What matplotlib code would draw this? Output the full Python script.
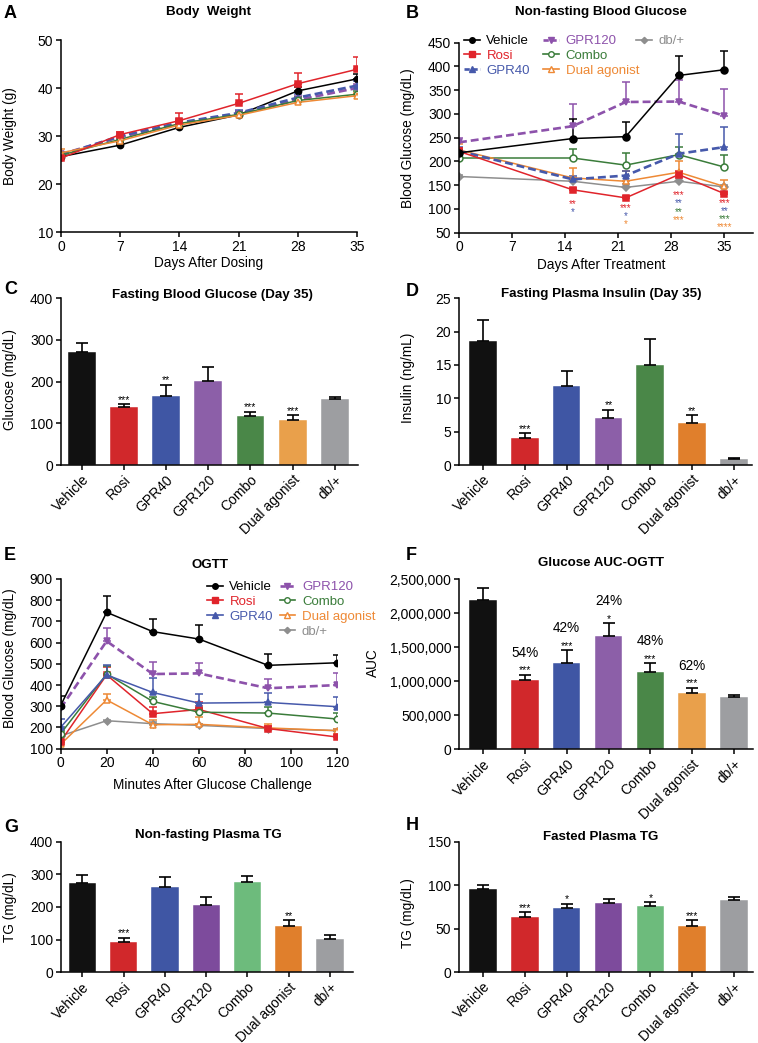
import numpy as np
import matplotlib
matplotlib.use("Agg")
import matplotlib.pyplot as plt
from matplotlib.lines import Line2D
from matplotlib.ticker import FuncFormatter

plt.rcParams['font.family'] = ['Liberation Sans', 'DejaVu Sans']

# ---------------- data ----------------
groups = ['Vehicle', 'Rosi', 'GPR40', 'GPR120', 'Combo', 'Dual agonist', 'db/+']

# A: body weight
days_A = [0, 7, 14, 21, 28, 35]
bw = {
    'Vehicle': [25.7, 28.1, 31.8, 34.4, 39.4, 41.9],
    'Rosi': [25.4, 30.3, 33.2, 36.8, 40.9, 43.9],
    'GPR40': [26.0, 30.0, 32.8, 34.8, 38.0, 40.5],
    'GPR120': [26.2, 29.8, 32.5, 34.6, 37.5, 40.0],
    'Combo': [26.0, 29.3, 32.6, 34.5, 37.4, 38.7],
    'Dual agonist': [26.5, 29.0, 32.3, 34.3, 37.0, 38.4],
}
bw_err = {
    'Vehicle': [0.5, 0.4, 0.5, 0.5, 0.8, 1.0],
    'Rosi': [0.6, 0.6, 1.5, 1.9, 2.2, 2.6],
    'GPR40': [0.5, 0.5, 0.7, 0.7, 0.8, 1.0],
    'GPR120': [0.5, 0.5, 0.6, 0.6, 0.8, 0.9],
    'Combo': [0.5, 0.5, 0.6, 0.5, 0.7, 0.7],
    'Dual agonist': [0.8, 0.5, 0.5, 0.5, 0.6, 0.6],
}

# B: non-fasting blood glucose
days_B = [0, 15, 22, 29, 35]
nfbg = {
    'Vehicle': [218, 248, 252, 381, 393],
    'Rosi': [221, 140, 123, 172, 132],
    'GPR40': [222, 162, 170, 216, 230],
    'GPR120': [240, 274, 325, 326, 296],
    'Combo': [207, 207, 192, 214, 188],
    'Dual agonist': [224, 165, 158, 177, 147],
    'db/+': [168, 158, 145, 158, 146],
}
nfbg_err = {
    'Vehicle': [5, 42, 31, 42, 39],
    'Rosi': [8, 4, 4, 8, 4],
    'GPR40': [8, 8, 10, 42, 42],
    'GPR120': [10, 46, 43, 45, 56],
    'Combo': [5, 18, 26, 16, 26],
    'Dual agonist': [12, 20, 22, 24, 14],
    'db/+': [3, 6, 7, 7, 5],
}
# significance labels for B: (day, level, text, group)
sig_B = [
    (15, 110, '**', 'Rosi'), (15, 93, '*', 'GPR40'),
    (22, 101, '***', 'Rosi'), (22, 84, '*', 'GPR40'), (22, 67, '*', 'Dual agonist'),
    (29, 128, '***', 'Rosi'), (29, 111, '**', 'GPR40'), (29, 94, '**', 'Combo'), (29, 77, '***', 'Dual agonist'),
    (35, 113, '***', 'Rosi'), (35, 96, '**', 'GPR40'), (35, 79, '***', 'Combo'), (35, 62, '****', 'Dual agonist'),
]

# C: fasting blood glucose day 35
C_vals = [270, 140, 166, 202, 118, 107, 158]
C_err = [23, 6, 27, 32, 10, 12, 6]
C_sig = ['', '***', '**', '', '***', '***', '']

# D: fasting plasma insulin day 35
D_vals = [18.6, 4.1, 11.85, 7.1, 15.05, 6.3, 0.95]
D_err = [3.2, 0.7, 2.25, 1.2, 3.8, 1.2, 0.15]
D_sig = ['', '***', '', '**', '', '**', '']

# E: OGTT
time_E = [0, 20, 40, 60, 90, 120]
ogtt = {
    'Vehicle': [302, 743, 652, 617, 493, 505],
    'Rosi': [133, 448, 265, 285, 195, 155],
    'GPR40': [200, 448, 365, 315, 318, 298],
    'GPR120': [290, 607, 452, 455, 385, 400],
    'Combo': [170, 452, 323, 272, 268, 240],
    'Dual agonist': [120, 330, 213, 215, 198, 185],
    'db/+': [160, 232, 218, 210, 195, 185],
}
ogtt_err = {
    'Vehicle': [45, 75, 58, 67, 53, 35],
    'Rosi': [10, 35, 30, 35, 10, 8],
    'GPR40': [40, 48, 70, 45, 45, 45],
    'GPR120': [15, 60, 55, 48, 45, 57],
    'Combo': [15, 38, 20, 20, 30, 28],
    'Dual agonist': [10, 27, 22, 35, 18, 8],
    'db/+': [5, 5, 8, 8, 8, 6],
}

# F: glucose AUC
F_vals = [2196000, 1015000, 1275000, 1672000, 1137000, 833000, 770000]
F_err = [172000, 83000, 181000, 181000, 128000, 74000, 29000]
F_sig = ['', '***', '***', '*', '***', '***', '']
F_pct = ['', '54%', '42%', '24%', '48%', '62%', '']

# G: non-fasting plasma TG
G_vals = [274, 93, 261, 206, 276, 143, 102]
G_err = [25, 13, 32, 25, 19, 16, 12]
G_sig = ['', '***', '', '', '', '**', '']

# H: fasted plasma TG
H_vals = [95.9, 63.3, 73.3, 79.0, 76.0, 53.3, 82.5]
H_err = [3.8, 5.4, 5.3, 5.4, 4.2, 6.2, 3.4]
H_sig = ['', '***', '*', '', '*', '***', '']

# ---------------- styles ----------------
line_color = {'Vehicle': '#000000', 'Rosi': '#e0242b', 'GPR40': '#4659ab', 'GPR120': '#8d52ab',
              'Combo': '#3a7c3a', 'Dual agonist': '#ee8935', 'db/+': '#8e8e8e'}
marker = {'Vehicle': 'o', 'Rosi': 's', 'GPR40': '^', 'GPR120': 'v', 'Combo': 'o', 'Dual agonist': '^', 'db/+': 'D'}
openm = {'Combo', 'Dual agonist'}

bar_colors_1 = ['#111111', '#d1282b', '#3f56a4', '#8c5fa8', '#4a8748', '#e9a04b', '#9d9ea1']
bar_colors_2 = ['#111111', '#d1282b', '#3f56a4', '#8c5fa8', '#4a8748', '#e07f2c', '#9d9ea1']
bar_colors_3 = ['#111111', '#d1282b', '#3f56a4', '#7d4b9c', '#6dbb7c', '#e07f2c', '#9d9ea1']

TICK_FS = 10
LAB_FS = 9.8
LEG_FS = 9.5

W, H = 758, 1043
fig = plt.figure(figsize=(W / 100, H / 100), dpi=100)


def add_ax(l, r, top, bot):
    return fig.add_axes([l / W, 1 - bot / H, (r - l) / W, (bot - top) / H])


def style(ax):
    for s in ['top', 'right']:
        ax.spines[s].set_visible(False)
    for s in ['left', 'bottom']:
        ax.spines[s].set_linewidth(1.1)
        ax.spines[s].set_zorder(5)
    ax.tick_params(direction='out', length=3.5, width=1.1, labelsize=TICK_FS, pad=2)


def ftext(x, y, s, **kw):
    fig.text(x / W, 1 - y / H, s, **kw)


def panel_label(x, y, s):
    ftext(x, y, s, fontsize=13, fontweight='bold', ha='left', va='center')


def title(x, y, s):
    ftext(x, y, s, fontsize=9.6, fontweight='bold', ha='center', va='center')


def ylab(x, y, s):
    ftext(x, y, s, fontsize=LAB_FS, rotation=90, ha='center', va='center')


def xlab(x, y, s):
    ftext(x, y, s, fontsize=LAB_FS, ha='center', va='center')


def line_series(ax, xs, data, err, names, dashed, lw=1.1, ms=4.5):
    for g in names:
        c = line_color[g]
        ls = (0, (3, 1.5)) if g in dashed else '-'
        lwid = 1.9 if g in dashed else lw
        yv = np.array(data[g], dtype=float)
        ye = np.array(err[g], dtype=float)
        ax.errorbar(xs, yv, yerr=[np.zeros_like(ye), ye], fmt='none', ecolor=c,
                    elinewidth=1.1, capsize=3, capthick=1.1, zorder=2)
        ax.plot(xs, yv, color=c, ls=ls, lw=lwid, marker=marker[g],
                ms=ms if marker[g] != 'D' else ms - 1,
                mfc='white' if g in openm else c, mec=c, mew=1.1, zorder=3,
                label=g)


def bar_panel(ax, vals, errs, colors, sig, ylim, yticks, xlim):
    x = np.arange(len(vals))
    ax.bar(x, vals, width=0.66, color=colors, edgecolor='white', linewidth=0.3, zorder=2)
    ax.errorbar(x, vals, yerr=[np.zeros(len(errs)), errs], fmt='none', ecolor='black',
                elinewidth=1.2, capsize=4, capthick=1.2, zorder=3)
    for i, s in enumerate(sig):
        if s:
            ax.annotate(s, (x[i], vals[i] + errs[i]), xytext=(0, 1), textcoords='offset points',
                        ha='center', va='baseline', fontsize=7.5)
    ax.set_ylim(*ylim)
    ax.set_yticks(yticks)
    ax.set_xlim(*xlim)
    ax.set_xticks(x)
    ax.set_xticklabels(groups, rotation=45, ha='right', rotation_mode='anchor')
    style(ax)


def handle(g, dashed):
    c = line_color[g]
    return Line2D([], [], color=c, ls=(0, (2, 1)) if g in dashed else '-',
                  lw=1.9 if g in dashed else 1.2, marker=marker[g],
                  ms=4 if marker[g] != 'D' else 3.2, mfc='white' if g in openm else c, mec=c, mew=1)


# ---------------- A ----------------
axA = add_ax(61, 357, 40, 232)
line_series(axA, days_A, bw, bw_err, ['Vehicle', 'GPR120', 'GPR40', 'Combo', 'Dual agonist', 'Rosi'],
            dashed={'GPR40', 'GPR120'})
axA.set_xlim(0, 35)
axA.set_ylim(10, 50)
axA.set_xticks(days_A)
axA.set_yticks([10, 20, 30, 40, 50])
style(axA)
panel_label(4, 13, 'A')
title(209, 12, 'Body  Weight')
ylab(10, 136, 'Body Weight (g)')
xlab(209, 263, 'Days After Dosing')

# ---------------- B ----------------
axB = add_ax(459, 753, 42.7, 232.5)
orderB = ['db/+', 'Combo', 'Dual agonist', 'GPR40', 'Rosi', 'GPR120', 'Vehicle']
line_series(axB, days_B, nfbg, nfbg_err, orderB, dashed={'GPR40', 'GPR120'}, ms=5)
for d, lev, s, g in sig_B:
    axB.text(d, lev, s, color=line_color[g], fontsize=7, ha='center', va='center')
axB.set_xlim(0, 38.8)
axB.set_ylim(50, 450)
axB.set_xticks([0, 7, 14, 21, 28, 35])
axB.set_yticks(np.arange(50, 451, 50))
style(axB)
dB = {'GPR40', 'GPR120'}
first6 = ['Vehicle', 'Rosi', 'GPR40', 'GPR120', 'Combo', 'Dual agonist']
leg1 = axB.legend([handle(g, dB) for g in first6], first6, ncol=2, loc='upper left',
                  bbox_to_anchor=(464 / W, 1 - 35 / H), bbox_transform=fig.transFigure,
                  frameon=False, fontsize=LEG_FS, handlelength=1.2, handletextpad=0.5,
                  columnspacing=1.0, labelspacing=0.2, borderpad=0, borderaxespad=0)
for t, g in zip(leg1.get_texts(), first6):
    t.set_color(line_color[g])
axB.add_artist(leg1)
leg2 = axB.legend([handle('db/+', dB)], ['db/+'], loc='upper left',
                  bbox_to_anchor=(636 / W, 1 - 35 / H), bbox_transform=fig.transFigure,
                  frameon=False, fontsize=LEG_FS, handlelength=1.2, handletextpad=0.5,
                  borderpad=0, borderaxespad=0)
leg2.get_texts()[0].set_color(line_color['db/+'])
panel_label(406, 13, 'B')
title(601, 12, 'Non-fasting Blood Glucose')
ylab(408, 138, 'Blood Glucose (mg/dL)')
xlab(601, 265, 'Days After Treatment')

# ---------------- C ----------------
axC = add_ax(61, 358, 298.3, 465)
bar_panel(axC, C_vals, C_err, bar_colors_1, C_sig, (0, 400), [0, 100, 200, 300, 400], (-0.49, 6.55))
panel_label(4, 290, 'C')
title(212, 295, 'Fasting Blood Glucose (Day 35)')
ylab(10, 380, 'Glucose (mg/dL)')

# ---------------- D ----------------
axD = add_ax(459, 752, 298.3, 465)
bar_panel(axD, D_vals, D_err, bar_colors_2, D_sig, (0, 25), [0, 5, 10, 15, 20, 25], (-0.57, 6.43))
panel_label(406, 291, 'D')
title(601, 294, 'Fasting Plasma Insulin (Day 35)')
ylab(408, 378, 'Insulin (ng/mL)')

# ---------------- E ----------------
axE = add_ax(60.5, 337.3, 579, 748.7)
orderE = ['db/+', 'Dual agonist', 'Rosi', 'Combo', 'GPR40', 'GPR120', 'Vehicle']
line_series(axE, time_E, ogtt, ogtt_err, orderE, dashed={'GPR120'}, ms=4.5)
axE.set_xlim(0, 120)
axE.set_ylim(100, 900)
axE.set_xticks([0, 20, 40, 60, 80, 100, 120])
axE.set_yticks(np.arange(100, 901, 100))
style(axE)
dE = {'GPR120'}
legE_names = ['Vehicle', 'Rosi', 'GPR40', None, 'GPR120', 'Combo', 'Dual agonist', 'db/+']
hE = [handle(g, dE) if g else Line2D([], [], color='none') for g in legE_names]
legE = axE.legend(hE, [g if g else ' ' for g in legE_names], ncol=2, loc='upper left',
                  bbox_to_anchor=(207 / W, 1 - 581 / H), bbox_transform=fig.transFigure,
                  frameon=False, fontsize=LEG_FS, handlelength=1.2, handletextpad=0.5,
                  columnspacing=0.5, labelspacing=0.2, borderpad=0, borderaxespad=0)
for t, g in zip(legE.get_texts(), legE_names):
    if g:
        t.set_color(line_color[g])
panel_label(4, 555, 'E')
title(210, 565, 'OGTT')
ylab(10, 658, 'Blood Glucose (mg/dL)')
xlab(212, 785, 'Minutes After Glucose Challenge')

# ---------------- F ----------------
axF = add_ax(459, 753, 579.3, 749.3)
bar_panel(axF, F_vals, F_err, bar_colors_1, F_sig, (0, 2500000),
          [0, 500000, 1000000, 1500000, 2000000, 2500000], (-0.57, 6.45))
axF.yaxis.set_major_formatter(FuncFormatter(lambda v, p: f'{int(v):,}'))
for i, s in enumerate(F_pct):
    if s:
        axF.annotate(s, (i, F_vals[i] + F_err[i]), xytext=(0, 13), textcoords='offset points',
                     ha='center', va='baseline', fontsize=9.8)
panel_label(406, 555, 'F')
title(601, 563, 'Glucose AUC-OGTT')
ylab(373, 663, 'AUC')

# ---------------- G ----------------
axG = add_ax(61, 353, 841.7, 972.3)
bar_panel(axG, G_vals, G_err, bar_colors_3, G_sig, (0, 400), [0, 100, 200, 300, 400], (-0.52, 6.56))
panel_label(4, 827, 'G')
title(208, 835, 'Non-fasting Plasma TG')
ylab(10, 907, 'TG (mg/dL)')

# ---------------- H ----------------
axH = add_ax(459, 753, 841.7, 972)
bar_panel(axH, H_vals, H_err, bar_colors_3, H_sig, (0, 150), [0, 50, 100, 150], (-0.57, 6.45))
panel_label(406, 826, 'H')
title(601, 837, 'Fasted Plasma TG')
ylab(408, 913, 'TG (mg/dL)')

fig.savefig('out.png', dpi=100)
